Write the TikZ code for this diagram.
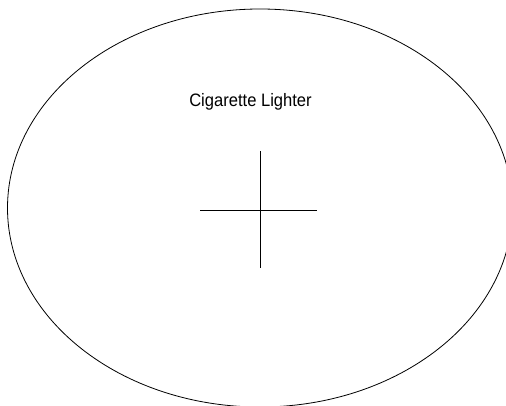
\documentclass[tikz,border=0pt]{standalone}
\usepackage{fontspec}
\setmainfont{Liberation Sans}
\usetikzlibrary{shapes.geometric}

\begin{document}
\begin{tikzpicture}[
    x=1pt, y=-1pt,
    outline/.style={draw, thick, shape=ellipse, minimum width=505pt, minimum height=398pt, inner sep=0pt},
    caption/.style={font=\fontsize{18}{20}\selectfont, xscale=0.92, anchor=base, inner sep=0pt},
    crossline/.style={draw, thick}
]
    \useasboundingbox (0,0) rectangle (506,405);
    \clip (0,0) rectangle (506,405);

    % Outline of the lighter socket
    \node[outline] (lighter) at (260,208) {};

    % Label
    \node[caption] (name) at (250.5,106) {Cigarette Lighter};

    % Centre mark
    \coordinate (left) at (200,210);
    \coordinate (right) at (317,210);
    \coordinate (top) at (260,151);
    \coordinate (bottom) at (260,268);
    \draw[crossline] (left) -- (right);
    \draw[crossline] (top) -- (bottom);

\end{tikzpicture}
\end{document}
